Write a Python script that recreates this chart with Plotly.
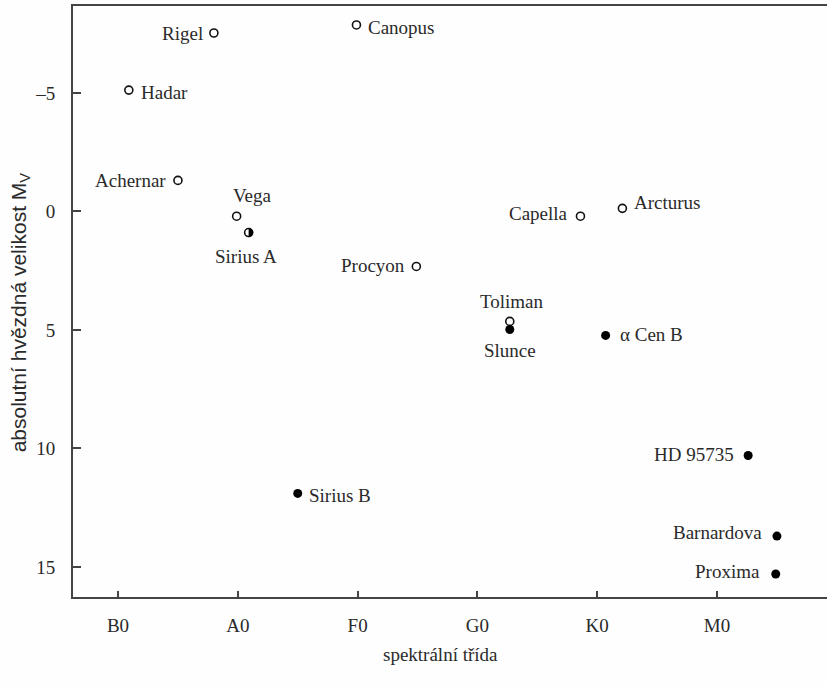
import plotly.graph_objects as go

# ---- data ----
classes = ["B0", "A0", "F0", "G0", "K0", "M0"]
class_pos = [0, 1, 2, 3, 4, 5]

stars = ["Rigel", "Canopus", "Hadar", "Achernar", "Vega", "Sirius A", "Procyon",
         "Capella", "Arcturus", "Toliman", "Slunce", "α Cen B", "Sirius B",
         "HD 95735", "Barnardova", "Proxima"]
spectral = [0.80, 1.99, 0.09, 0.50, 0.99, 1.09, 2.49, 3.86, 4.21, 3.27, 3.27,
            4.07, 1.50, 5.26, 5.50, 5.49]
magnitude = [-7.53, -7.87, -5.12, -1.31, 0.20, 0.89, 2.32, 0.20, -0.13, 4.64, 4.98,
             5.23, 11.9, 10.3, 13.7, 15.3]
kind = ["open", "open", "open", "open", "open", "half", "open", "open", "open",
        "open", "filled", "filled", "filled", "filled", "filled", "filled"]

y_ticks = [-5, 0, 5, 10, 15]
y_ticktext = ["–5", "0", "5", "10", "15"]

# ---- label placement (style) ----
label_style = {
    "Rigel": ("right", -9, 0),
    "Canopus": ("left", 10, -3),
    "Hadar": ("left", 10, -2),
    "Achernar": ("right", -10, 0),
    "Vega": ("center", 16, 21),
    "Sirius A": ("center", -3, -24),
    "Procyon": ("right", -9, 1),
    "Capella": ("right", -10, 3),
    "Arcturus": ("left", 10, 6),
    "Toliman": ("center", 2, 20),
    "Slunce": ("center", 0, -21),
    "α Cen B": ("left", 12, 1),
    "Sirius B": ("left", 9, -2),
    "HD 95735": ("right", -12, 1),
    "Barnardova": ("right", -13, 4),
    "Proxima": ("right", -14, 3),
}

SERIF = "Liberation Serif, Times New Roman, serif"
TXT = "#2a2a2a"

fig = go.Figure()

def subset(ks):
    idx = [i for i, kk in enumerate(kind) if kk in ks]
    return [spectral[i] for i in idx], [magnitude[i] for i in idx]

xo, yo = subset(("open", "half"))
fig.add_trace(go.Scatter(x=xo, y=yo, mode="markers",
                         marker=dict(symbol="circle", size=8, color="white",
                                     line=dict(color="#111", width=1.6)),
                         hoverinfo="skip", showlegend=False))
xf, yf = subset(("filled",))
fig.add_trace(go.Scatter(x=xf, y=yf, mode="markers",
                         marker=dict(symbol="circle", size=9, color="#000",
                                     line=dict(color="#000", width=0)),
                         hoverinfo="skip", showlegend=False))

# right half filled for the half-filled marker(s)
r = 4.6
k = 0.5523 * r
half_path = (f"M 0,{-r} C {k},{-r} {r},{-k} {r},0 "
             f"C {r},{k} {k},{r} 0,{r} Z")
xh, yh = subset(("half",))
for hx, hy in zip(xh, yh):
    fig.add_shape(type="path", xref="x", yref="y", xsizemode="pixel", ysizemode="pixel",
                  xanchor=hx, yanchor=hy, path=half_path,
                  fillcolor="#000", line=dict(width=0), layer="above")

for name, sx, my in zip(stars, spectral, magnitude):
    anchor, dx, dy = label_style[name]
    fig.add_annotation(x=sx, y=my, xref="x", yref="y", text=name, showarrow=False,
                       xanchor=anchor, yanchor="middle", xshift=dx, yshift=dy,
                       font=dict(family=SERIF, size=19, color=TXT))

# axis titles
fig.add_annotation(xref="paper", yref="paper", x=0.487, y=-0.098,
                   text="spektrální třída", showarrow=False,
                   xanchor="center", yanchor="middle",
                   font=dict(family=SERIF, size=19, color=TXT))
fig.add_annotation(xref="paper", yref="paper", x=-0.070, y=0.482,
                   text="absolutní hvězdná velikost M<sub>V</sub>", showarrow=False,
                   textangle=-90, xanchor="center", yanchor="middle",
                   font=dict(family="Liberation Sans, Arial, sans-serif", size=21, color=TXT))

fig.update_xaxes(range=[-0.376, 5.918], tickvals=class_pos, ticktext=classes,
                 ticks="inside", ticklen=6, tickwidth=1.5, tickcolor="#444",
                 showline=True, linecolor="#444", linewidth=2, mirror=True,
                 showgrid=False, zeroline=False, ticklabelstandoff=10,
                 tickfont=dict(family=SERIF, size=19, color=TXT))
fig.update_yaxes(range=[16.27, -8.67], tickvals=y_ticks, ticktext=y_ticktext,
                 ticks="inside", ticklen=8, tickwidth=1.5, tickcolor="#444",
                 showline=True, linecolor="#444", linewidth=2, mirror=False,
                 showgrid=False, zeroline=False, ticklabelstandoff=12,
                 tickfont=dict(family=SERIF, size=19, color=TXT))

fig.update_layout(width=827, height=687,
                  margin=dict(l=73, r=0, t=6, b=90, autoexpand=False),
                  paper_bgcolor="#fefefe", plot_bgcolor="#fefefe",
                  showlegend=False)

fig.write_html("out.html", config={"displayModeBar": False},
               post_script="document.body.style.margin='0';")
